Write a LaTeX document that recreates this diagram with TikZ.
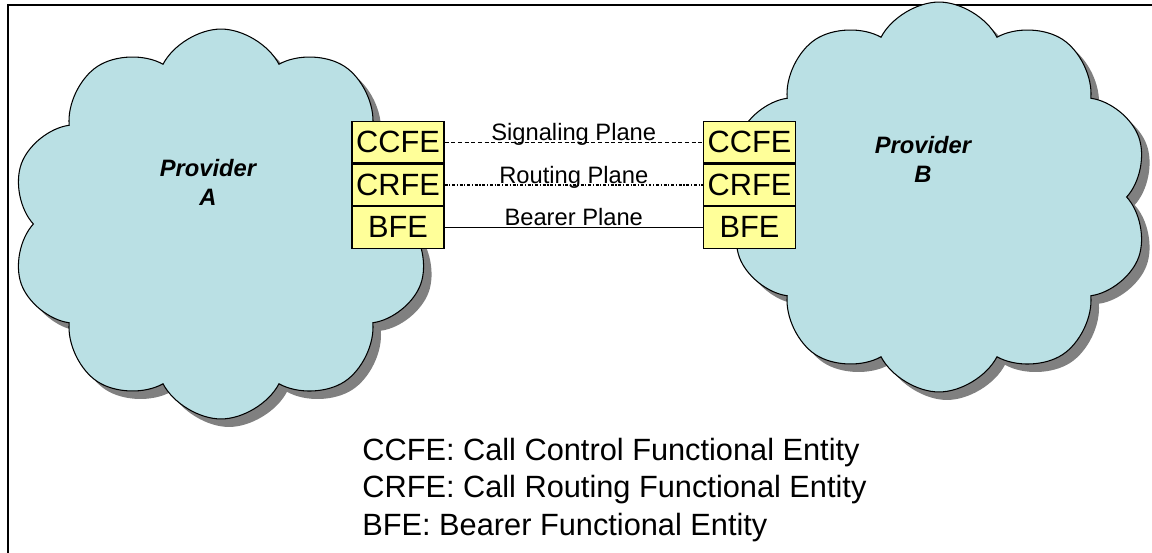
\documentclass[tikz,border=0pt]{standalone}
\usepackage{fontspec}
\setmainfont{Liberation Sans}
\usetikzlibrary{shapes,shadows,positioning}
\definecolor{cloudblue}{RGB}{186,224,228}
\definecolor{feyellow}{RGB}{255,255,153}
\definecolor{shadowgray}{RGB}{128,128,128}

\begin{document}
\begin{tikzpicture} [x=0.02cm,y=-0.02cm,
  prov/.style= {shape=cloud,cloud puffs=10,cloud puff arc=125,aspect=1.1,cloud ignores aspect,draw,line width=0.6pt,fill=cloudblue,
    drop shadow={shadow xshift=0.16cm,shadow yshift=-0.16cm,fill=shadowgray,opacity=1},inner sep=0,minimum width=8.4cm,minimum height=7.8cm},
  provtext/.style= {align=center,font=\fontsize{13.5}{16.5}\selectfont\bfseries\itshape},
  fe/.style= {rectangle,draw,line width=0.6pt,fill=feyellow,minimum width=1.84cm,minimum height=0.83cm,inner sep=0,font=\fontsize{17.5}{20}\selectfont},
  plane/.style= {midway,anchor=base,yshift=1pt,inner sep=0,font=\fontsize{13.5}{16}\selectfont},
  legend/.style= {align=left,anchor=west,inner sep=0,font=\fontsize{17.5}{21.3}\selectfont}]

\useasboundingbox (0,0) rectangle (1152,552);
\draw[line width=0.9pt] (8,600) -- (8,5) -- (1200,5);

\node[prov] (cloudA) at (221,224) {};
\node[prov] (cloudB) at (939,197) {};
\node[provtext] (provA) at (208,182) {Provider\\A};
\node[provtext] (provB) at (923,159) {Provider\\B};

\foreach \s/\x in {A/398,B/749.5}{%
  \node[fe,anchor=north] (ccfe\s) at (\x,121) {CCFE};
  \node[fe,below=0pt of ccfe\s] (crfe\s) {CRFE};
  \node[fe,below=0pt of crfe\s] (bfe\s) {BFE};}

\draw[line width=0.8pt,dash pattern=on 2.3pt off 1.5pt] (ccfeA) -- node[plane] {Signaling Plane} (ccfeB);
\draw[line width=0.8pt,dash pattern=on 1.7pt off 1pt on 0.6pt off 1pt] (crfeA) -- node[plane] {Routing Plane} (crfeB);
\draw[line width=0.6pt] (bfeA) -- node[plane] {Bearer Plane} (bfeB);

\node[legend] (legend) at (362,490) {CCFE: Call Control Functional Entity\\CRFE: Call Routing Functional Entity\\BFE: Bearer Functional Entity};
%  \node at (cloudA.center) {x};
\end{tikzpicture}
\end{document}
